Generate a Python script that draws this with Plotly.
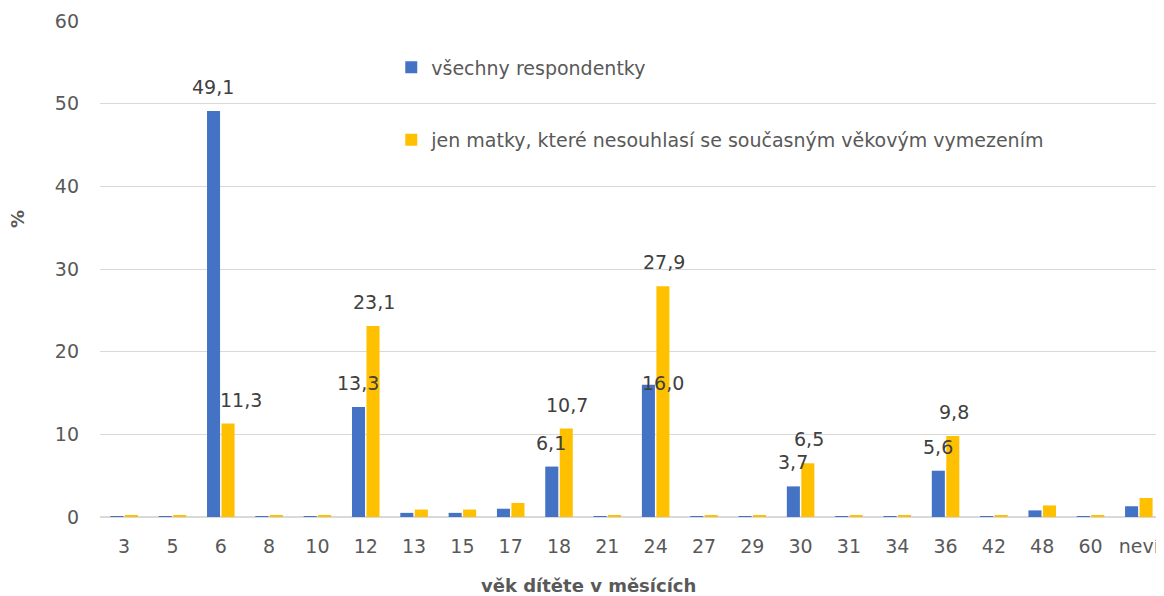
import plotly.graph_objects as go

categories = ["3", "5", "6", "8", "10", "12", "13", "15", "17", "18", "21", "24",
              "27", "29", "30", "31", "34", "36", "42", "48", "60", "neví"]
vsechny = [0.1, 0.1, 49.1, 0.1, 0.1, 13.3, 0.5, 0.5, 1.0, 6.1, 0.1, 16.0,
           0.1, 0.1, 3.7, 0.1, 0.1, 5.6, 0.1, 0.8, 0.1, 1.3]
matky = [0.2, 0.2, 11.3, 0.2, 0.2, 23.1, 0.9, 0.9, 1.7, 10.7, 0.2, 27.9,
         0.2, 0.2, 6.5, 0.2, 0.2, 9.8, 0.2, 1.4, 0.2, 2.3]
labelled = ["6", "12", "18", "24", "30", "36"]

font = "DejaVu Sans, Verdana, sans-serif"
grey = "#595959"
fig = go.Figure()
fig.add_trace(go.Bar(x=categories, y=vsechny, name="všechny respondentky",
                     marker_color="#4472c4", marker_line_width=0, legendgroup="a"))
fig.add_trace(go.Bar(x=categories, y=matky,
                     name="jen matky, které nesouhlasí se současným věkovým vymezením",
                     marker_color="#ffc000", marker_line_width=0, legendgroup="b"))

# data labels (drawn on top of all bars); x given as category index
extra_xshift = {("6", 1): 12, ("24", 0): 15}
label_yshift = {("24", 0): 2}
for si, vals in enumerate([vsechny, matky]):
    for i, (c, v) in enumerate(zip(categories, vals)):
        if c in labelled:
            fig.add_annotation(x=i, y=v, xref="x", yref="y",
                               text=f"{v:.1f}".replace(".", ","),
                               showarrow=False, yanchor="middle",
                               yshift=label_yshift.get((c, si), 24),
                               xshift=(-8 if si == 0 else 8) + extra_xshift.get((c, si), 0),
                               font=dict(size=19, color="#404040", family=font))

# axis titles
fig.add_annotation(text="<b>věk dítěte v měsících</b>", xref="paper", yref="paper",
                   x=0.46, y=-0.139, showarrow=False, yanchor="middle",
                   font=dict(size=18, color=grey, family=font))
fig.add_annotation(text="<b>%</b>", xref="paper", yref="paper", textangle=-90,
                   x=-0.077, y=0.601, showarrow=False, xanchor="center", yanchor="middle",
                   font=dict(size=18, color=grey, family=font))

fig.update_layout(
    width=1156, height=588,
    margin=dict(l=92, r=1, t=13, b=79, autoexpand=False),
    paper_bgcolor="white", plot_bgcolor="white",
    font=dict(family=font, size=19, color=grey),
    barmode="group", bargap=0.4, bargroupgap=0.1,
    showlegend=True,
    legend=dict(x=0.274, y=0.945, xanchor="left", yanchor="top",
                tracegroupgap=45, font=dict(size=19, color=grey),
                bgcolor="rgba(0,0,0,0)", itemwidth=30),
    xaxis=dict(type="category", range=[-0.5, len(categories) - 0.5],
               showgrid=False, showline=True, linecolor="#d9d9d9", linewidth=1,
               ticks="", automargin=False, ticklabelstandoff=12, tickangle=0),
    yaxis=dict(range=[0, 60], dtick=10, showgrid=True, gridcolor="#d9d9d9",
               zeroline=True, zerolinecolor="#d9d9d9", ticks="", showline=False,
               automargin=False, ticklabelstandoff=20),
)
fig.write_html("out.html")
